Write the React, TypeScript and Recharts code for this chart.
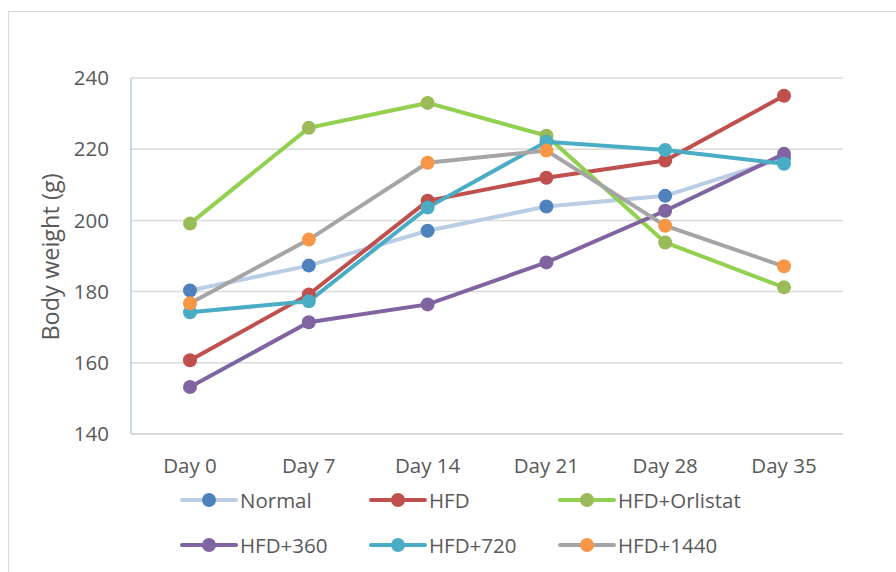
import React from 'react';
import { LineChart, Line, XAxis, YAxis, CartesianGrid } from 'recharts';

const days = ['Day 0', 'Day 7', 'Day 14', 'Day 21', 'Day 28', 'Day 35'];

const normal = [180.3, 187.3, 197.1, 203.9, 206.9, 217.5];
const hfd = [160.7, 179.2, 205.5, 212.0, 216.8, 235.0];
const orlistat = [199.1, 226.0, 233.0, 223.8, 193.8, 181.2];
const hfd360 = [153.2, 171.4, 176.4, 188.2, 202.7, 218.7];
const hfd720 = [174.2, 177.3, 203.6, 222.1, 219.8, 215.9];
const hfd1440 = [176.7, 194.6, 216.2, 219.6, 198.5, 187.1];

const yTicks = [140, 160, 180, 200, 220, 240];

const series = [
  { key: 'normal', name: 'Normal', values: normal, line: '#B9CDE5', dot: '#4F81BD' },
  { key: 'hfd', name: 'HFD', values: hfd, line: '#C0504D', dot: '#C0504D' },
  { key: 'orlistat', name: 'HFD+Orlistat', values: orlistat, line: '#92D050', dot: '#9BBB59' },
  { key: 'hfd360', name: 'HFD+360', values: hfd360, line: '#8064A2', dot: '#8064A2' },
  { key: 'hfd720', name: 'HFD+720', values: hfd720, line: '#4BACC6', dot: '#4BACC6' },
  { key: 'hfd1440', name: 'HFD+1440', values: hfd1440, line: '#A5A5A5', dot: '#F79646' },
];

const data = days.map((day, i) => {
  const row: Record<string, string | number> = { day };
  series.forEach((s) => {
    row[s.key] = s.values[i];
  });
  return row;
});

const font = '"Open Sans", sans-serif';
const textColor = '#595959';

function LegendItem({ name, line, dot }: { name: string; line: string; dot: string }) {
  return (
    <div style={{ display: 'flex', alignItems: 'center', width: 189 }}>
      <svg width={58} height={18} style={{ flex: 'none' }}>
        <line x1={2} y1={9} x2={56} y2={9} stroke={line} strokeWidth={4} strokeLinecap="round" />
        <circle cx={29} cy={9} r={7} fill={dot} />
      </svg>
      <span style={{ marginLeft: 2, fontSize: 20.5, color: textColor, fontFamily: font, lineHeight: '20px' }}>
        {name}
      </span>
    </div>
  );
}

export default function App() {
  return (
    <div style={{ position: 'absolute', left: 0, top: 0, width: 896, height: 572, overflow: 'hidden', background: '#fff' }}>
      <div
        style={{
          position: 'absolute',
          left: 8,
          top: 11,
          width: 960,
          height: 640,
          border: '1.5px solid #D9D9D9',
        }}
      />
      <div style={{ position: 'absolute', left: 0, top: 0 }}>
        <LineChart width={896} height={572} data={data} margin={{ top: 78, right: 53, bottom: 108, left: 0 }}>
          <CartesianGrid vertical={false} stroke="#D9D9D9" strokeWidth={1.5} />
          <XAxis
            dataKey="day"
            height={30}
            padding={{ left: 59, right: 59 }}
            tickLine={false}
            axisLine={{ stroke: '#D9D9D9', strokeWidth: 1.5 }}
            tickSize={0}
            tickMargin={24}
            tick={{ fill: textColor, fontSize: 20.5, fontFamily: font }}
          />
          <YAxis
            width={131}
            domain={[140, 240]}
            ticks={yTicks}
            tickLine={false}
            tickSize={0}
            tickMargin={22}
            axisLine={{ stroke: '#B9CDE5', strokeWidth: 1.5 }}
            tick={{ fill: textColor, fontSize: 20.5, fontFamily: font }}
            label={() => (
              <text
                x={50}
                y={257}
                transform="rotate(-90 50 257)"
                textAnchor="middle"
                dominantBaseline="central"
                fill={textColor}
                fontSize={23.5}
                fontFamily={font}
              >
                Body weight (g)
              </text>
            )}
          />
          {series.map((s) => (
            <Line
              key={s.key}
              type="linear"
              dataKey={s.key}
              name={s.name}
              stroke={s.line}
              strokeWidth={4}
              dot={{ r: 7, fill: s.dot, stroke: s.dot, strokeWidth: 0 }}
              activeDot={false}
              isAnimationActive={false}
            />
          ))}
        </LineChart>
      </div>
      <div style={{ position: 'absolute', left: 180, top: 490, display: 'flex', flexWrap: 'wrap', width: 570, rowGap: 25 }}>
        {series.map((s) => (
          <LegendItem key={s.key} name={s.name} line={s.line} dot={s.dot} />
        ))}
      </div>
    </div>
  );
}
